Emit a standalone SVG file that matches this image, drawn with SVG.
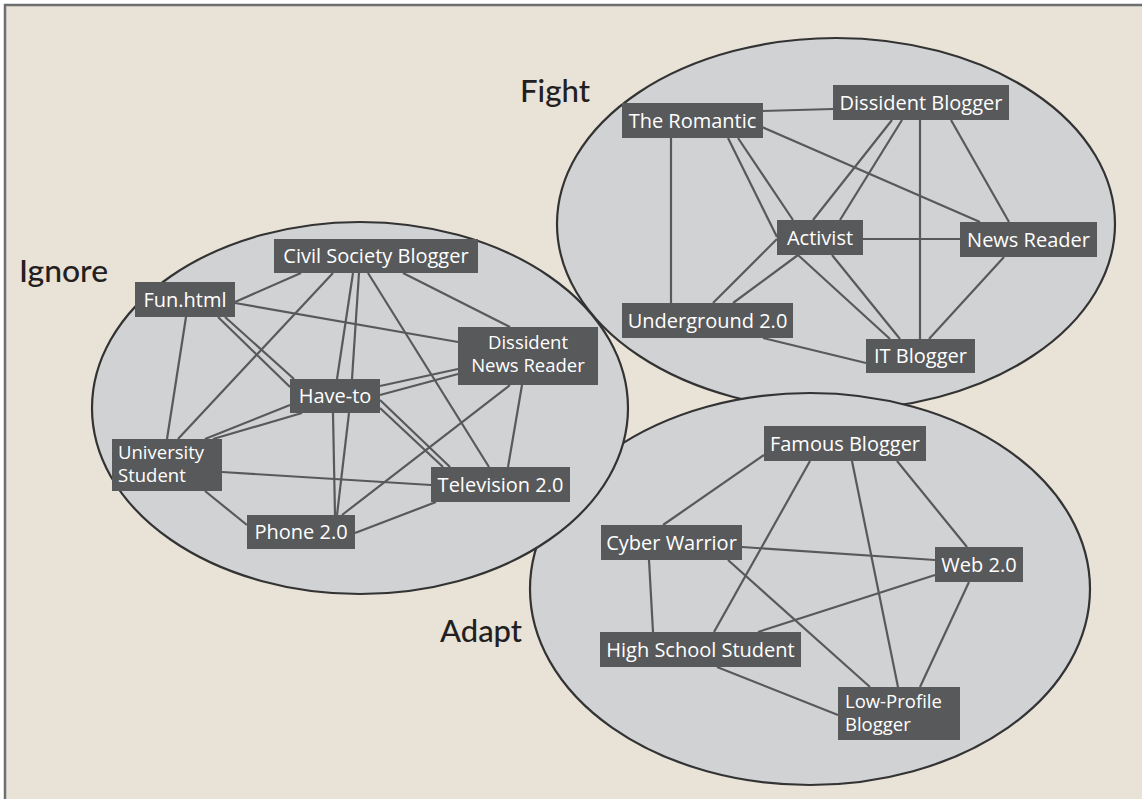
<svg xmlns="http://www.w3.org/2000/svg" width="1142" height="799" viewBox="0 0 1142 799">
<style>
.bg{fill:#e8e2d7}
.cl{fill:#d1d2d4;stroke:#333334;stroke-width:2.2}
.lbl{font-family:Lato,"Liberation Sans",sans-serif;font-size:31px;fill:#231f20;font-weight:500}
.nd rect{fill:#58595b}
.nd text{font-family:"Open Sans","Liberation Sans",sans-serif;font-size:20px;fill:#ffffff}
.nd text.m{font-size:18.5px}
.c{text-anchor:middle}
#connectors line{stroke:#58595b;stroke-width:2.2}
</style>
<rect x="0" y="0" width="1142" height="799" fill="#ffffff"/>
<rect class="bg" x="5" y="5" width="1200" height="900" stroke="#6d6e70" stroke-width="2.5"/>
<g id="clusters">
<ellipse id="fight" class="cl" cx="836" cy="224" rx="279" ry="186"/>
<ellipse id="adapt" class="cl" cx="810" cy="589" rx="280" ry="196"/>
<ellipse id="ignore" class="cl" cx="360" cy="408" rx="268" ry="186"/>
</g>
<g id="cluster-labels">
<text class="lbl" x="520" y="102" textLength="70" lengthAdjust="spacingAndGlyphs">Fight</text>
<text class="lbl" x="19" y="282" textLength="89" lengthAdjust="spacingAndGlyphs">Ignore</text>
<text class="lbl" x="440" y="642" textLength="82" lengthAdjust="spacingAndGlyphs">Adapt</text>
</g>
<g id="connectors">
<!-- Fight -->
<line x1="762" y1="111" x2="833" y2="109"/>
<line x1="762" y1="127" x2="980" y2="222"/>
<line x1="671" y1="138" x2="671" y2="303"/>
<line x1="728" y1="138" x2="777" y2="237"/>
<line x1="738" y1="138" x2="793" y2="220"/>
<line x1="813" y1="220" x2="892" y2="120"/>
<line x1="840" y1="220" x2="902" y2="120"/>
<line x1="920" y1="120" x2="920" y2="339"/>
<line x1="951" y1="120" x2="1009" y2="222"/>
<line x1="863" y1="239" x2="960" y2="239"/>
<line x1="1004" y1="257" x2="929" y2="339"/>
<line x1="798" y1="255" x2="890" y2="339"/>
<line x1="832" y1="255" x2="900" y2="339"/>
<line x1="777" y1="239" x2="713" y2="303"/>
<line x1="798" y1="255" x2="733" y2="303"/>
<line x1="763" y1="338" x2="866" y2="363"/>
<!-- Ignore -->
<line x1="235" y1="302" x2="301" y2="273"/>
<line x1="235" y1="303" x2="458" y2="342"/>
<line x1="186" y1="317" x2="167" y2="439"/>
<line x1="218" y1="317" x2="290" y2="387"/>
<line x1="225" y1="317" x2="294" y2="379"/>
<line x1="333" y1="273" x2="178" y2="439"/>
<line x1="353" y1="273" x2="337" y2="379"/>
<line x1="359" y1="273" x2="352" y2="379"/>
<line x1="333" y1="413" x2="335" y2="515"/>
<line x1="349" y1="413" x2="337" y2="515"/>
<line x1="368" y1="273" x2="489" y2="467"/>
<line x1="403" y1="273" x2="510" y2="327"/>
<line x1="380" y1="386" x2="458" y2="369"/>
<line x1="380" y1="395" x2="458" y2="374"/>
<line x1="380" y1="400" x2="450" y2="467"/>
<line x1="380" y1="408" x2="443" y2="467"/>
<line x1="290" y1="405" x2="205" y2="439"/>
<line x1="302" y1="413" x2="213" y2="439"/>
<line x1="222" y1="472" x2="431" y2="485"/>
<line x1="205" y1="491" x2="247" y2="525"/>
<line x1="355" y1="533" x2="436" y2="502"/>
<line x1="342" y1="515" x2="510" y2="385"/>
<line x1="522" y1="385" x2="508" y2="467"/>
<!-- Adapt -->
<line x1="764" y1="455" x2="663" y2="525"/>
<line x1="810" y1="461" x2="714" y2="632"/>
<line x1="852" y1="461" x2="898" y2="687"/>
<line x1="897" y1="461" x2="967" y2="547"/>
<line x1="742" y1="547" x2="935" y2="560"/>
<line x1="649" y1="560" x2="653" y2="632"/>
<line x1="728" y1="560" x2="870" y2="687"/>
<line x1="758" y1="632" x2="935" y2="575"/>
<line x1="717" y1="667" x2="838" y2="715"/>
<line x1="969" y1="582" x2="920" y2="687"/>
</g>
<!-- Fight nodes -->
<g id="the-romantic" class="nd"><rect x="622" y="103" width="141" height="35"/><text class="c" x="692.5" y="127.5">The Romantic</text></g>
<g id="dissident-blogger" class="nd"><rect x="833" y="85" width="176" height="35"/><text class="c" x="921" y="109.5">Dissident Blogger</text></g>
<g id="activist" class="nd"><rect x="777" y="220" width="86" height="35"/><text class="c" x="820" y="244.5">Activist</text></g>
<g id="news-reader" class="nd"><rect x="960" y="222" width="137" height="35"/><text class="c" x="1028.5" y="246.5">News Reader</text></g>
<g id="underground" class="nd"><rect x="622" y="303" width="171" height="35"/><text class="c" x="707.5" y="327.5">Underground 2.0</text></g>
<g id="it-blogger" class="nd"><rect x="866" y="339" width="109" height="34"/><text class="c" x="920.5" y="363">IT Blogger</text></g>
<!-- Ignore nodes -->
<g id="civil-society-blogger" class="nd"><rect x="274" y="239" width="204" height="34"/><text class="c" x="376" y="263">Civil Society Blogger</text></g>
<g id="fun-html" class="nd"><rect x="135" y="282" width="100" height="35"/><text class="c" x="185" y="306.5">Fun.html</text></g>
<g id="dissident-news-reader" class="nd"><rect x="458" y="327" width="140" height="58"/><text class="c m"><tspan x="528" y="349">Dissident</tspan><tspan x="528" y="372">News Reader</tspan></text></g>
<g id="have-to" class="nd"><rect x="290" y="379" width="90" height="34"/><text class="c" x="335" y="403">Have-to</text></g>
<g id="university-student" class="nd"><rect x="112" y="439" width="110" height="52"/><text class="m"><tspan x="118" y="459">University</tspan><tspan x="118" y="482">Student</tspan></text></g>
<g id="television" class="nd"><rect x="431" y="467" width="139" height="35"/><text class="c" x="500.5" y="491.5">Television 2.0</text></g>
<g id="phone" class="nd"><rect x="247" y="515" width="108" height="34"/><text class="c" x="301" y="539">Phone 2.0</text></g>
<!-- Adapt nodes -->
<g id="famous-blogger" class="nd"><rect x="764" y="426" width="162" height="35"/><text class="c" x="845" y="450.5">Famous Blogger</text></g>
<g id="cyber-warrior" class="nd"><rect x="601" y="525" width="141" height="35"/><text class="c" x="671.5" y="549.5">Cyber Warrior</text></g>
<g id="web" class="nd"><rect x="935" y="547" width="88" height="35"/><text class="c" x="979" y="571.5">Web 2.0</text></g>
<g id="high-school-student" class="nd"><rect x="600" y="632" width="201" height="35"/><text class="c" x="700.5" y="656.5">High School Student</text></g>
<g id="low-profile-blogger" class="nd"><rect x="838" y="687" width="122" height="53"/><text class="m"><tspan x="845" y="708">Low-Profile</tspan><tspan x="845" y="731">Blogger</tspan></text></g>
</svg>
